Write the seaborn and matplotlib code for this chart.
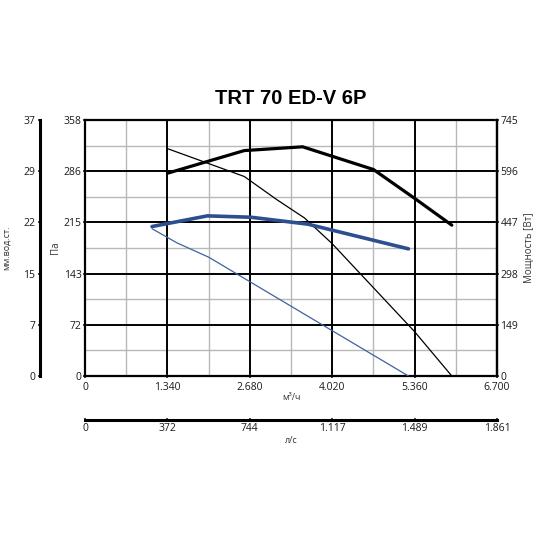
import numpy as np
import pandas as pd
import seaborn as sns
import matplotlib.pyplot as plt

# ---- данные ----
title = "TRT 70 ED-V 6P"

flow_ticks = [0, 1340, 2680, 4020, 5360, 6700]
flow_labels = ["0", "1.340", "2.680", "4.020", "5.360", "6.700"]
ls_labels = ["0", "372", "744", "1.117", "1.489", "1.861"]
pa_ticks = [0, 72, 143, 215, 286, 358]
mm_labels = ["0", "7", "15", "22", "29", "37"]
w_ticks = [0, 149, 298, 447, 596, 745]

# давление, Па (тонкие линии)
p_black_x = [1340, 2590, 3130, 3570, 4020, 5360, 5965]
p_black_y = [318, 279, 246, 221, 185, 62, 0]
p_blue_x = [1090, 1500, 2015, 3890, 5260]
p_blue_y = [206, 186, 166, 70, 0]

# мощность, Вт (толстые линии)
w_black_x = [1340, 2590, 3540, 4690, 5360, 5965]
w_black_y = [590, 656, 667, 601, 517, 439]
w_blue_x = [1090, 1990, 2700, 3620, 5260]
w_blue_y = [435, 466, 462, 442, 370]

BLUE = "#2d4f8f"
BLUE_THIN = "#3f62a0"

sns.set_theme(style="white")
plt.rcParams['font.family'] = ['Open Sans', 'DejaVu Sans']
plt.rcParams['xtick.labelcolor'] = '#1a1a1a'
plt.rcParams['ytick.labelcolor'] = '#1a1a1a'

fig = plt.figure(figsize=(5.5, 5.5), dpi=100)
L, R = 85 / 550, 497 / 550
B, T = 1 - 376 / 550, 1 - 120 / 550
ax = fig.add_axes([L, B, R - L, T - B])
ax.set_facecolor("white")

# сетка
for xv in np.arange(670, 6700, 1340):
    ax.axvline(xv, color="#b8b8b8", lw=1.0, zorder=0)
for yv in np.arange(35.8, 358, 71.6):
    ax.axhline(yv, color="#b8b8b8", lw=1.0, zorder=0)
for xv in flow_ticks[1:-1]:
    ax.axvline(xv, color="black", lw=1.4, zorder=0.5)
for yv in pa_ticks[1:-1]:
    ax.axhline(yv, color="black", lw=1.4, zorder=0.5)

sns.lineplot(x=p_black_x, y=p_black_y, ax=ax, color="black", lw=0.9, zorder=3)
sns.lineplot(x=p_blue_x, y=p_blue_y, ax=ax, color=BLUE_THIN, lw=0.9, zorder=3)

ax.set_xlim(0, 6700)
ax.set_ylim(0, 358)
ax.set_xticks(flow_ticks)
ax.set_xticklabels(flow_labels)
ax.set_yticks(pa_ticks)
ax.set_yticklabels([str(v) for v in pa_ticks])
ax.tick_params(axis="y", labelsize=7.5, length=3, width=1.2, pad=1,
               direction="inout", left=True, labelcolor="#1a1a1a")
ax.tick_params(axis="x", labelsize=7.5, length=3, width=1.2, pad=3,
               direction="inout", bottom=True, labelcolor="#1a1a1a")
ax.set_xlabel("м³/ч", fontsize=6.5, labelpad=0, color="#333333")
ax.set_ylabel("Па", fontsize=7, labelpad=2, color="#333333")
for s in ax.spines.values():
    s.set_color("black")
    s.set_linewidth(1.6)

# мощность
ax2 = ax.twinx()
sns.lineplot(x=w_black_x, y=w_black_y, ax=ax2, color="black", lw=2.3, zorder=4)
sns.lineplot(x=w_blue_x, y=w_blue_y, ax=ax2, color=BLUE, lw=2.6, zorder=4)
ax2.set_ylim(0, 745)
ax2.set_yticks(w_ticks)
ax2.set_yticklabels([str(v) for v in w_ticks])
ax2.tick_params(axis="y", labelsize=7.5, length=3, width=1.2, pad=1,
                direction="inout", right=True, labelcolor="#1a1a1a")
ax2.set_ylabel("Мощность [Вт]", fontsize=7, labelpad=4, color="#333333")
for s in ax2.spines.values():
    s.set_visible(False)
ax2.spines["right"].set_visible(True)
ax2.spines["right"].set_linewidth(1.6)
ax2.spines["right"].set_color("black")

# мм вод. ст.
ax_mm = fig.add_axes([40 / 550, B, 0.0001, T - B])
ax_mm.set_ylim(0, 358)
ax_mm.set_yticks(pa_ticks)
ax_mm.set_yticklabels(mm_labels)
ax_mm.set_xticks([])
for s in ax_mm.spines.values():
    s.set_visible(False)
ax_mm.spines["left"].set_visible(True)
ax_mm.spines["left"].set_linewidth(2.2)
ax_mm.spines["left"].set_color("black")
ax_mm.tick_params(axis="y", labelsize=7.5, length=3, width=1.2, pad=2,
                  direction="inout", left=True, labelcolor="#1a1a1a")
ax_mm.set_ylabel("мм.вод.ст.", fontsize=6.5, labelpad=9, color="#333333")

# л/с
ax_ls = fig.add_axes([L, 1 - 420 / 550, R - L, 0.0001])
ax_ls.set_xlim(0, 6700)
ax_ls.set_xticks(flow_ticks)
ax_ls.set_xticklabels(ls_labels)
ax_ls.set_yticks([])
for s in ax_ls.spines.values():
    s.set_visible(False)
ax_ls.spines["bottom"].set_visible(True)
ax_ls.spines["bottom"].set_linewidth(2.2)
ax_ls.spines["bottom"].set_color("black")
ax_ls.tick_params(axis="x", labelsize=7.5, length=3, width=1.2, pad=1,
                  direction="inout", bottom=True, labelcolor="#1a1a1a")
ax_ls.set_xlabel("л/с", fontsize=6.5, labelpad=1, color="#333333")

fig.text(0.528, 1 - 98 / 550, title, ha="center", va="center",
         fontsize=14.5, fontweight="bold", color="black",
         family=["Liberation Sans", "DejaVu Sans"])

fig.savefig("out.png", dpi=100, facecolor="white")
